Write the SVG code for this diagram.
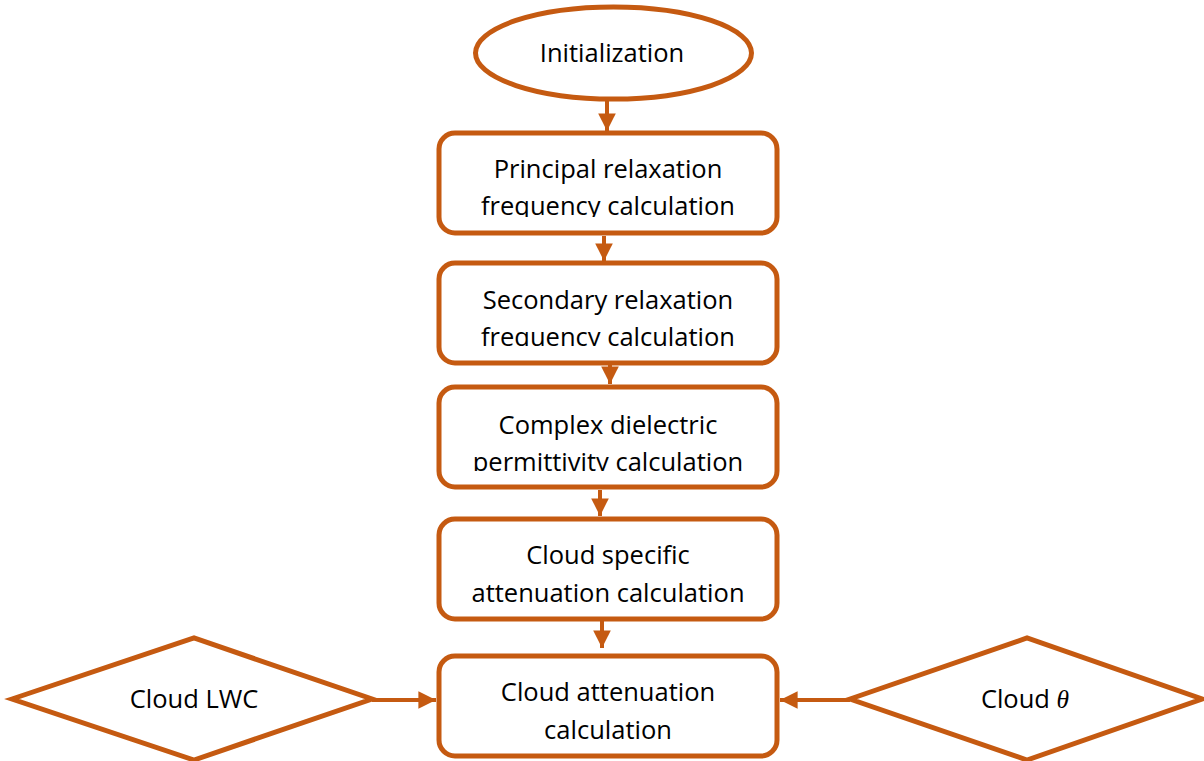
<svg xmlns="http://www.w3.org/2000/svg" width="1204" height="761" viewBox="0 0 1204 761">
<style>
.s{fill:#fff;stroke:#C55A11;stroke-width:5}
.t{font-family:"Open Sans","Liberation Sans",sans-serif;font-size:25.5px;fill:#000;text-anchor:middle}
.c{stroke:#C55A11;stroke-width:4;fill:none}
</style>
<defs>
<marker id="ah" viewBox="0 0 10 10" refX="10" refY="5" markerWidth="4.4" markerHeight="4.4" markerUnits="strokeWidth" orient="auto">
<path d="M0,0 L10,5 L0,10 Z" fill="#C55A11"/>
</marker>
<clipPath id="c1"><rect x="0" y="0" width="1204" height="217"/></clipPath>
<clipPath id="c2"><rect x="0" y="0" width="1204" height="346"/></clipPath>
<clipPath id="c3"><rect x="0" y="0" width="1204" height="471"/></clipPath>
</defs>
<g id="connectors">
<line class="c" x1="607" y1="100" x2="607" y2="131" marker-end="url(#ah)"/>
<line class="c" x1="604" y1="236" x2="604" y2="261" marker-end="url(#ah)"/>
<line class="c" x1="610" y1="357" x2="610" y2="384" marker-end="url(#ah)"/>
<line class="c" x1="600" y1="490" x2="600" y2="516" marker-end="url(#ah)"/>
<line class="c" x1="602" y1="621" x2="602" y2="648" marker-end="url(#ah)"/>
<line class="c" x1="372" y1="700" x2="436" y2="700" marker-end="url(#ah)"/>
<line class="c" x1="850" y1="700" x2="780" y2="700" marker-end="url(#ah)"/>
</g>
<g id="init">
<ellipse class="s" cx="613.5" cy="53" rx="138" ry="46"/>
<text class="t" x="612" y="62">Initialization</text>
</g>
<g id="principal">
<rect class="s" x="439" y="133" width="338" height="100" rx="16"/>
<g clip-path="url(#c1)">
<text class="t" x="608" y="178">Principal relaxation</text>
<text class="t" x="608" y="215">frequency calculation</text>
</g>
</g>
<g id="secondary">
<rect class="s" x="439" y="263" width="338" height="100" rx="16"/>
<g clip-path="url(#c2)">
<text class="t" x="608" y="309">Secondary relaxation</text>
<text class="t" x="608" y="346">frequency calculation</text>
</g>
</g>
<g id="complex">
<rect class="s" x="439" y="387" width="338" height="100" rx="16"/>
<g clip-path="url(#c3)">
<text class="t" x="608" y="434">Complex dielectric</text>
<text class="t" x="608" y="471">permittivity calculation</text>
</g>
</g>
<g id="specific">
<rect class="s" x="439" y="519" width="338" height="100" rx="16"/>
<text class="t" x="608" y="564">Cloud specific</text>
<text class="t" x="608" y="602">attenuation calculation</text>
</g>
<g id="attenuation">
<rect class="s" x="439" y="656" width="338" height="100" rx="16"/>
<text class="t" x="608" y="701">Cloud attenuation</text>
<text class="t" x="608" y="739">calculation</text>
</g>
<g id="lwc">
<polygon class="s" points="12,699 194,638 372,699 194,760"/>
<text class="t" x="194" y="708">Cloud LWC</text>
</g>
<g id="theta">
<polygon class="s" points="850,699 1027,638 1202,699 1027,760"/>
<text class="t" x="1025" y="708">Cloud <tspan font-family="'Liberation Serif',serif" font-style="italic">θ</tspan></text>
</g>
</svg>
